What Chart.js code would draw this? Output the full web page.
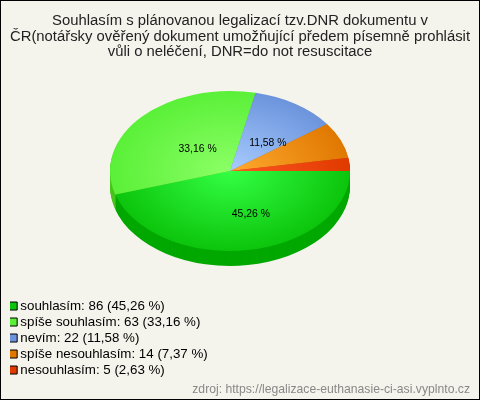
<!DOCTYPE html>
<html><head><meta charset="utf-8">
<style>html,body{margin:0;padding:0;background:#f5f4ec}canvas{display:block}</style>
<script src="https://cdn.jsdelivr.net/npm/chart.js@4"></script></head>
<body><canvas id="c" width="480" height="400"></canvas>
<script>
const titleLines=["Souhlasím s plánovanou legalizací tzv.DNR dokumentu v","ČR(notářsky ověřený dokument umožňující předem písemně prohlásit","vůli o neléčení, DNR=do not resuscitace"];
const categories=["souhlasím","spíše souhlasím","nevím","spíše nesouhlasím","nesouhlasím"];
const counts=[86,63,22,14,5];
const percents=["45,26","33,16","11,58","7,37","2,63"];
const innerColors=["#33ff44","#8cff66","#a8ccff","#ffaa30","#ff5522"];
const rimColors=["#0cc40c","#5af038","#6c94dc","#e07800","#e03a00"];
const sideColors=["#00a800","#48c41c","#5a80c0","#b86000","#b82e00"];
const source="zdroj: https://legalizace-euthanasie-ci-asi.vyplnto.cz";
const labelNudges=[[12,3.5],[11.7,5],[5,5.5],null,null];
const PIE={cx:230,cy:171,rx:120,ry:80,depth:15};
function applyPie(ctx,arc,dy){
  const R=arc.outerRadius;
  ctx.translate(PIE.cx,PIE.cy+dy);
  ctx.scale(PIE.rx/R,PIE.ry/R);
  ctx.translate(-arc.x,-arc.y);
}
const pie3d={id:'pie3d',
  beforeDraw(chart){
    const c=chart.ctx;c.save();
    c.fillStyle='#f5f4ec';c.fillRect(0,0,480,400);
    c.strokeStyle='#000';c.lineWidth=1;c.strokeRect(.5,.5,479,399);
    c.restore();
  },
  beforeDatasetsDraw(chart){
    const c=chart.ctx,arcs=chart.getDatasetMeta(0).data;
    for(let d=PIE.depth;d>=1;d--){
      arcs.forEach((arc,i)=>{
        c.save();applyPie(c,arc,d);
        const o=arc.options,bg=o.backgroundColor;
        o.backgroundColor=sideColors[i];
        arc.draw(c);
        o.backgroundColor=bg;
        c.restore();
      });
    }
    c.save();applyPie(c,arcs[0],0);
  },
  afterDatasetsDraw(chart){
    const c=chart.ctx,arcs=chart.getDatasetMeta(0).data;
    c.restore();
    c.save();
    c.font='10.4px "Liberation Sans"';c.fillStyle='#000';c.textAlign='center';c.textBaseline='middle';
    arcs.forEach((arc,i)=>{
      const n=labelNudges[i];if(!n)return;
      const mid=(arc.startAngle+arc.endAngle)/2;
      c.fillText(percents[i]+" %",PIE.cx+PIE.rx*.5*Math.cos(mid)+n[0],PIE.cy+PIE.ry*.5*Math.sin(mid)+n[1]);
    });
    c.restore();
  }
};
new Chart(document.getElementById('c'),{
  type:'pie',
  data:{labels:categories,datasets:[{
    data:counts,clip:false,borderWidth:0,
    backgroundColor(ctx){
      const a=ctx.chart.chartArea,i=ctx.dataIndex;
      if(!a)return rimColors[i];
      const x=(a.left+a.right)/2,y=(a.top+a.bottom)/2,r=Math.min(a.right-a.left,a.bottom-a.top)/2;
      const g=ctx.chart.ctx.createRadialGradient(x,y,0,x,y,r);
      g.addColorStop(0,innerColors[i]);g.addColorStop(1,rimColors[i]);
      return g;
    }
  }]},
  plugins:[pie3d],
  options:{
    responsive:false,animation:false,rotation:90,
    events:[],
    layout:{padding:{left:10,right:10,top:0,bottom:0}},
    plugins:{
      tooltip:{enabled:false},
      title:{display:true,text:titleLines,color:'#222',font:{family:'"Liberation Sans"',size:14.85,weight:'normal',lineHeight:1.06},padding:{top:13,bottom:9}},
      subtitle:{display:true,position:'bottom',align:'end',text:source,color:'#888',font:{family:'"Liberation Sans"',size:12.2,weight:'normal'},padding:{top:3,bottom:3}},
      legend:{position:'left',align:'end',fullSize:false,labels:{
        usePointStyle:true,pointStyle:'rect',boxWidth:1,boxHeight:8,padding:2.67,color:'#333',
        font:{family:'"Liberation Sans"',size:13.33},
        generateLabels(){return categories.map((n,i)=>({text:`${n}: ${counts[i]} (${percents[i]} %)`,fillStyle:rimColors[i],strokeStyle:'#000',lineWidth:1,pointStyle:'rect',index:i}));}
      }}
    }
  }
});
</script></body></html>
